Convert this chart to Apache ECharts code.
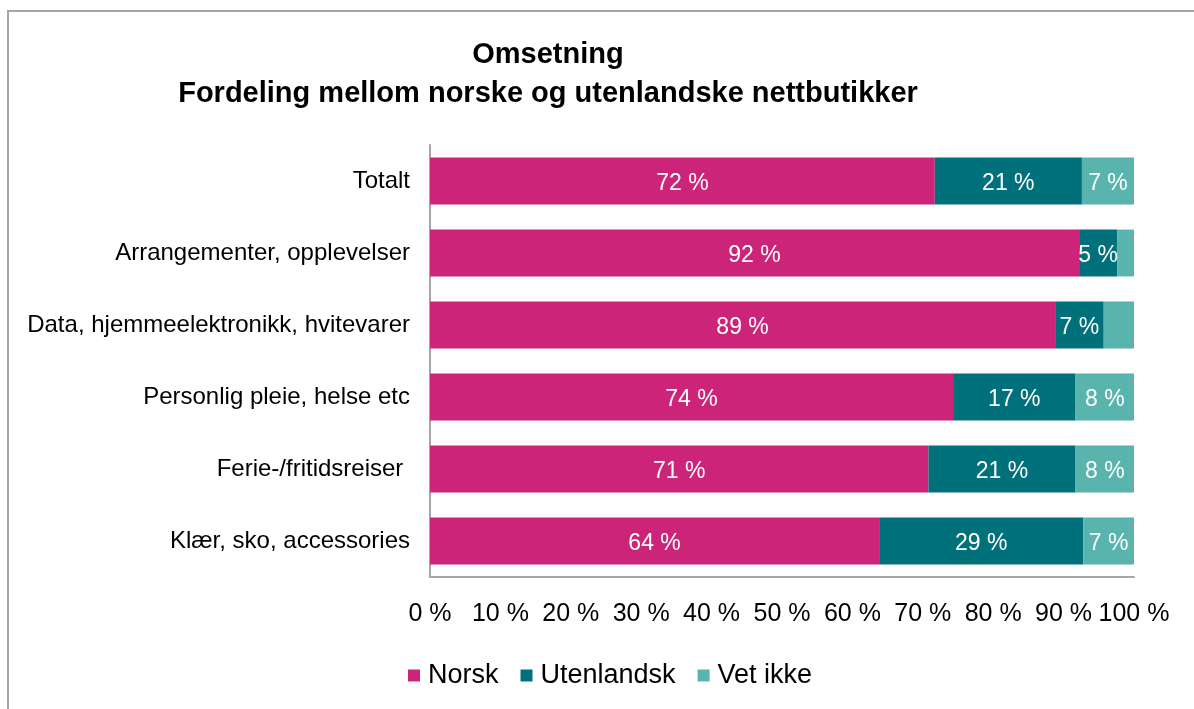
<!DOCTYPE html>
<html>
<head>
<meta charset="utf-8">
<script src="https://cdn.jsdelivr.net/npm/echarts/dist/echarts.min.js"></script>
<style>
  html, body { margin: 0; padding: 0; background: #fff; }
  #chart { width: 1194px; height: 709px; }
</style>
</head>
<body>
<div id="chart"></div>
<script>
// categories, top to bottom
var categories = [
  'Totalt',
  'Arrangementer, opplevelser',
  'Data, hjemmeelektronikk, hvitevarer',
  'Personlig pleie, helse etc',
  'Ferie-/fritidsreiser ',
  'Klær, sko, accessories'
];
var norsk      = [71.7, 92.2, 88.8, 74.3, 70.8, 63.8];
var utenlandsk = [20.9, 5.4, 6.9, 17.4, 20.9, 29.0];
var vetIkke    = [7.4, 2.4, 4.3, 8.3, 8.3, 7.2];
var seriesNames = ['Norsk', 'Utenlandsk', 'Vet ikke'];
var colors = ['#CB2479', '#00707A', '#58B4AC'];

var font = 'Liberation Sans, Arial, sans-serif';

function makeSeries(name, data, color) {
  return {
    name: name,
    type: 'bar',
    stack: 'total',
    barCategoryGap: '35%',
    data: data,
    itemStyle: { color: color },
    label: {
      show: true,
      color: '#fff',
      fontSize: 23,
      fontFamily: font,
      offset: [0, 3],
      formatter: function (p) {
        return p.value < 5 ? '' : Math.round(p.value) + ' %';
      }
    }
  };
}

var chart = echarts.init(document.getElementById('chart'));
var option = {
  animation: false,
  color: colors,
  title: {
    text: 'Omsetning\nFordeling mellom norske og utenlandske nettbutikker',
    left: 543,
    top: 30,
    textAlign: 'center',
    textStyle: {
      fontSize: 29,
      fontWeight: 'bold',
      fontFamily: font,
      color: '#000',
      lineHeight: 39
    }
  },
  legend: {
    left: 403,
    top: 657,
    itemWidth: 12,
    itemHeight: 12,
    itemGap: 22,
    icon: 'rect',
    textStyle: { fontSize: 27, fontFamily: font, color: '#000', padding: [0, 0, 0, 3] },
    data: seriesNames
  },
  grid: {
    left: 430,
    right: 60,
    top: 145,
    bottom: 132,
    containLabel: false
  },
  xAxis: {
    type: 'value',
    min: 0,
    max: 100,
    interval: 10,
    axisLine: { show: true, lineStyle: { color: '#A6A6A6', width: 2 } },
    axisTick: { show: false },
    splitLine: { show: false },
    axisLabel: {
      formatter: '{value} %',
      fontSize: 25,
      fontFamily: font,
      color: '#000',
      margin: 25
    }
  },
  yAxis: {
    type: 'category',
    inverse: true,
    data: categories,
    axisLine: { show: true, lineStyle: { color: '#A6A6A6', width: 2 } },
    axisTick: { show: false },
    axisLabel: {
      fontSize: 24,
      fontFamily: font,
      color: '#000',
      margin: 20,
      padding: [6, 0, 0, 0]
    }
  },
  graphic: [{
    type: 'polyline',
    shape: { points: [[8, 709], [8, 11], [1194, 11]] },
    style: { stroke: '#A6A6A6', lineWidth: 2, fill: null }
  }],
  series: [
    makeSeries(seriesNames[0], norsk, colors[0]),
    makeSeries(seriesNames[1], utenlandsk, colors[1]),
    makeSeries(seriesNames[2], vetIkke, colors[2])
  ]
};
chart.setOption(option);
</script>
</body>
</html>
